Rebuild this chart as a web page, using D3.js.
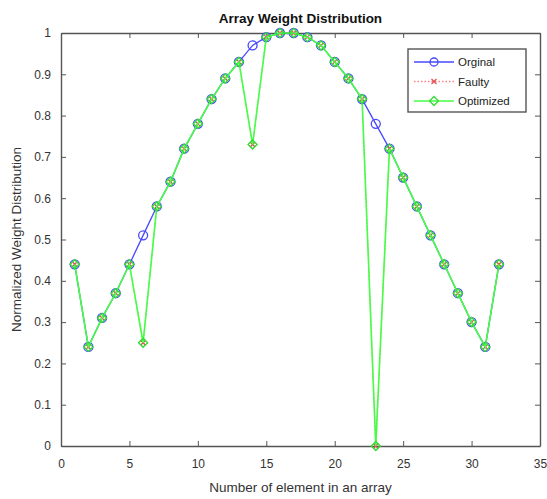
<!DOCTYPE html>
<html>
<head>
<meta charset="utf-8">
<script src="https://cdn.jsdelivr.net/npm/d3@7"></script>
<style>
  body { margin: 0; background: #fff; }
  text { font-family: "Liberation Sans", Arial, sans-serif; }
</style>
</head>
<body>
<svg id="chart" width="547" height="499"></svg>
<script>
// element index 1..32
const elements = d3.range(1, 33);
const original = [0.44, 0.24, 0.31, 0.37, 0.44, 0.51, 0.58, 0.64, 0.72, 0.78, 0.84, 0.89, 0.93, 0.97, 0.99, 1.0,
                  1.0, 0.99, 0.97, 0.93, 0.89, 0.84, 0.78, 0.72, 0.65, 0.58, 0.51, 0.44, 0.37, 0.30, 0.24, 0.44];
const faulty = [0.44, 0.24, 0.31, 0.37, 0.44, 0.25, 0.58, 0.64, 0.72, 0.78, 0.84, 0.89, 0.93, 0.73, 0.99, 1.0,
                1.0, 0.99, 0.97, 0.93, 0.89, 0.84, 0.0, 0.72, 0.65, 0.58, 0.51, 0.44, 0.37, 0.30, 0.24, 0.44];
const optimized = [0.44, 0.24, 0.31, 0.37, 0.44, 0.25, 0.58, 0.64, 0.72, 0.78, 0.84, 0.89, 0.93, 0.73, 0.99, 1.0,
                   1.0, 0.99, 0.97, 0.93, 0.89, 0.84, 0.0, 0.72, 0.65, 0.58, 0.51, 0.44, 0.37, 0.30, 0.24, 0.44];
const xTicks = [0, 5, 10, 15, 20, 25, 30, 35];
const yTicks = [0, 0.1, 0.2, 0.3, 0.4, 0.5, 0.6, 0.7, 0.8, 0.9, 1];
const seriesNames = ["Orginal", "Faulty", "Optimized"];

const svg = d3.select("#chart");
const pLeft = 61, pRight = 540, pTop = 33, pBottom = 446;

const x = d3.scaleLinear().domain([0, 35]).range([pLeft, pRight]);
const y = d3.scaleLinear().domain([0, 1]).range([pBottom, pTop]);

const axisColor = "#333";

// axes with inward ticks, box style
function styleAxis(g) {
  g.select(".domain").attr("stroke", "#555").attr("stroke-width", 1.4);
  g.selectAll(".tick line").attr("stroke", "#555");
  g.selectAll(".tick text").attr("fill", axisColor).attr("font-size", 12)
    .attr("font-family", "Liberation Sans, Arial, sans-serif");
}

svg.append("g").attr("transform", `translate(0,${pBottom})`)
  .call(d3.axisBottom(x).tickValues(xTicks).tickSize(-5).tickPadding(13).tickSizeOuter(0))
  .call(styleAxis);
svg.append("g").attr("transform", `translate(0,${pTop})`)
  .call(d3.axisTop(x).tickValues(xTicks).tickSize(-5).tickFormat("").tickSizeOuter(0))
  .call(styleAxis);
svg.append("g").attr("transform", `translate(${pLeft},0)`)
  .call(d3.axisLeft(y).tickValues(yTicks).tickSize(-5).tickPadding(10).tickSizeOuter(0).tickFormat(d3.format("~g")))
  .call(styleAxis);
svg.append("g").attr("transform", `translate(${pRight},0)`)
  .call(d3.axisRight(y).tickValues(yTicks).tickSize(-5).tickFormat("").tickSizeOuter(0))
  .call(styleAxis);

const line = d3.line().x((d, i) => x(elements[i])).y(d => y(d));

// original: blue line, circle markers
svg.append("path").datum(original)
  .attr("d", line).attr("fill", "none").attr("stroke", "#4848ff").attr("stroke-width", 1.3);
svg.append("g").selectAll("circle").data(original).join("circle")
  .attr("cx", (d, i) => x(elements[i])).attr("cy", d => y(d)).attr("r", 4.5)
  .attr("fill", "none").attr("stroke", "#4848ff").attr("stroke-width", 1.3);

// faulty: red dotted, x markers
svg.append("path").datum(faulty)
  .attr("d", line).attr("fill", "none").attr("stroke", "#ff7070").attr("stroke-width", 1)
  .attr("stroke-dasharray", "1.5,2");
svg.append("g").selectAll("path").data(faulty).join("path")
  .attr("transform", (d, i) => `translate(${x(elements[i])},${y(d)})`)
  .attr("d", "M-2.5,-2.5L2.5,2.5M-2.5,2.5L2.5,-2.5").attr("stroke", "#e05050").attr("stroke-width", 1.3);

// optimized: green line, diamond markers
svg.append("path").datum(optimized)
  .attr("d", line).attr("fill", "none").attr("stroke", "#44ff44").attr("stroke-width", 1.6);
svg.append("g").selectAll("path").data(optimized).join("path")
  .attr("transform", (d, i) => `translate(${x(elements[i])},${y(d)})`)
  .attr("d", "M0,-4.5L4.5,0L0,4.5L-4.5,0Z").attr("fill", "none").attr("stroke", "#33dd33").attr("stroke-width", 1.4);

// title and labels
svg.append("text").attr("x", (pLeft + pRight) / 2).attr("y", 23).attr("text-anchor", "middle")
  .attr("font-size", 13.5).attr("font-weight", "bold").attr("fill", "#111").text("Array Weight Distribution");
svg.append("text").attr("x", (pLeft + pRight) / 2).attr("y", 492).attr("text-anchor", "middle")
  .attr("font-size", 13.5).attr("fill", axisColor).text("Number of element in an array");
svg.append("text").attr("transform", `translate(21,${(pTop + pBottom) / 2}) rotate(-90)`)
  .attr("text-anchor", "middle").attr("font-size", 13.5).attr("fill", axisColor)
  .text("Normalized Weight Distribution");

// legend
const legend = svg.append("g").attr("transform", "translate(408,49)");
legend.append("rect").attr("width", 118).attr("height", 63)
  .attr("fill", "#fff").attr("stroke", "#555").attr("stroke-width", 1.4);
const legStyles = [
  { color: "#4848ff", dash: null, mark: "circle" },
  { color: "#ff8080", dash: "1.5,2", mark: "x" },
  { color: "#44ff44", dash: null, mark: "diamond" }
];
seriesNames.forEach((name, i) => {
  const g = legend.append("g").attr("transform", `translate(0,${13 + i * 19.5})`);
  const s = legStyles[i];
  g.append("line").attr("x1", 6).attr("x2", 46).attr("stroke", s.color)
    .attr("stroke-width", 1.3).attr("stroke-dasharray", s.dash);
  if (s.mark === "circle") {
    g.append("circle").attr("cx", 26).attr("r", 4).attr("fill", "none").attr("stroke", s.color).attr("stroke-width", 1.3);
  } else if (s.mark === "x") {
    g.append("path").attr("transform", "translate(26,0)").attr("d", "M-2.5,-2.5L2.5,2.5M-2.5,2.5L2.5,-2.5")
      .attr("stroke", "#e05050").attr("stroke-width", 1.3);
  } else {
    g.append("path").attr("transform", "translate(26,0)").attr("d", "M0,-4.5L4.5,0L0,4.5L-4.5,0Z")
      .attr("fill", "none").attr("stroke", "#33dd33").attr("stroke-width", 1.3);
  }
  g.append("text").attr("x", 50).attr("y", 4).attr("font-size", 11.5).attr("fill", "#222").text(name);
});
</script>
</body>
</html>
